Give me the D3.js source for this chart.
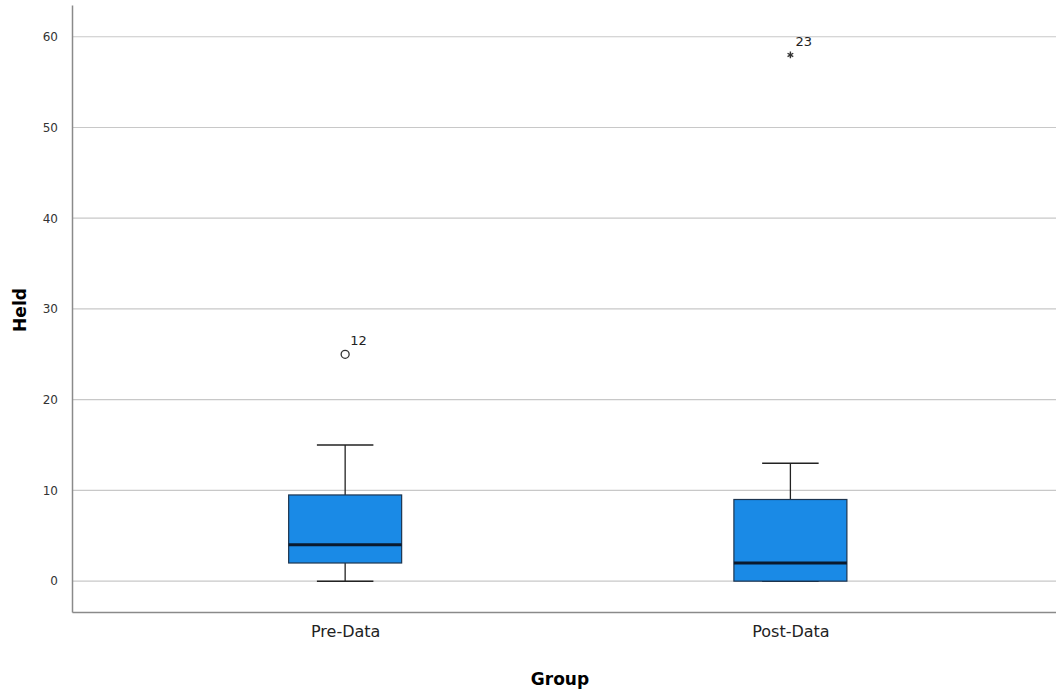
<!DOCTYPE html>
<html>
<head>
<meta charset="utf-8">
<script src="https://cdn.jsdelivr.net/npm/d3@7"></script>
<style>
  body { margin: 0; background: #fff; }
  text { font-family: "DejaVu Sans", sans-serif; }
</style>
</head>
<body>
<div class="chart"></div>
<script>
const groups = ["Pre-Data", "Post-Data"];
const mins = [0, 0];
const q1s = [2, 0];
const medians = [4, 2];
const q3s = [9.5, 9];
const maxs = [15, 13];
const outlierValues = [25, 58];
const outlierLabels = ["12", "23"];
const outlierKinds = ["circle", "star"];
const yTicks = [0, 10, 20, 30, 40, 50, 60];

const width = 1056, height = 694;
const margin = { left: 72, right: 1056, top: 5, bottom: 612 };

const svg = d3.select(".chart").append("svg")
  .attr("width", width)
  .attr("height", height);

const x = d3.scalePoint()
  .domain(groups)
  .range([margin.left, margin.right])
  .padding(0.605)
  .align(0.507);

const y = d3.scaleLinear()
  .domain([-3.4, 63.5])
  .range([margin.bottom, margin.top]);

const boxW = 113;

// grid lines
svg.append("g")
  .selectAll("line")
  .data(yTicks)
  .enter()
  .append("line")
  .attr("x1", margin.left)
  .attr("x2", margin.right)
  .attr("y1", d => y(d))
  .attr("y2", d => y(d))
  .attr("stroke", "#c8c8c8")
  .attr("stroke-width", 1.2);

// y axis
const yAxis = svg.append("g")
  .attr("transform", `translate(${margin.left}, 0)`)
  .call(d3.axisLeft(y).tickValues(yTicks).tickSize(0).tickPadding(14));
yAxis.select(".domain").attr("stroke", "#8a8a8a").attr("stroke-width", 1.5);
yAxis.selectAll("text").attr("font-size", 12).attr("fill", "#333");

// x axis
const xAxis = svg.append("g")
  .attr("transform", `translate(0, ${margin.bottom})`)
  .call(d3.axisBottom(x).tickSize(0).tickPadding(14));
xAxis.select(".domain").attr("stroke", "#8a8a8a").attr("stroke-width", 1.5);
xAxis.selectAll("text").attr("font-size", 16).attr("fill", "#222");

// axis titles
svg.append("text")
  .attr("x", 560)
  .attr("y", 685)
  .attr("text-anchor", "middle")
  .attr("font-size", 17)
  .attr("font-weight", "bold")
  .text("Group");

svg.append("text")
  .attr("transform", "translate(26, 310) rotate(-90)")
  .attr("text-anchor", "middle")
  .attr("font-size", 17)
  .attr("font-weight", "bold")
  .text("Held");

// boxes
const boxes = svg.append("g")
  .selectAll("g")
  .data(groups)
  .enter()
  .append("g");

// whiskers
boxes.append("line")
  .attr("x1", d => x(d)).attr("x2", d => x(d))
  .attr("y1", (d, i) => y(maxs[i])).attr("y2", (d, i) => y(q3s[i]))
  .attr("stroke", "#222").attr("stroke-width", 1.3);
boxes.append("line")
  .attr("x1", d => x(d)).attr("x2", d => x(d))
  .attr("y1", (d, i) => y(mins[i])).attr("y2", (d, i) => y(q1s[i]))
  .attr("stroke", "#222").attr("stroke-width", 1.3);
boxes.append("line")
  .attr("x1", d => x(d) - boxW / 4).attr("x2", d => x(d) + boxW / 4)
  .attr("y1", (d, i) => y(maxs[i])).attr("y2", (d, i) => y(maxs[i]))
  .attr("stroke", "#222").attr("stroke-width", 1.5);
boxes.append("line")
  .attr("x1", d => x(d) - boxW / 4).attr("x2", d => x(d) + boxW / 4)
  .attr("y1", (d, i) => y(mins[i])).attr("y2", (d, i) => y(mins[i]))
  .attr("stroke", "#222").attr("stroke-width", 1.5);

boxes.append("rect")
  .attr("x", d => x(d) - boxW / 2)
  .attr("width", boxW)
  .attr("y", (d, i) => y(q3s[i]))
  .attr("height", (d, i) => y(q1s[i]) - y(q3s[i]))
  .attr("fill", "#1a8ae6")
  .attr("stroke", "#1d3550")
  .attr("stroke-width", 1.2);

boxes.append("line")
  .attr("x1", d => x(d) - boxW / 2).attr("x2", d => x(d) + boxW / 2)
  .attr("y1", (d, i) => y(medians[i])).attr("y2", (d, i) => y(medians[i]))
  .attr("stroke", "#0a1a2e").attr("stroke-width", 3);

// outliers
boxes.each(function (d, i) {
  const g = d3.select(this);
  const cx = x(d), cy = y(outlierValues[i]);
  if (outlierKinds[i] === "circle") {
    g.append("circle")
      .attr("cx", cx).attr("cy", cy).attr("r", 4)
      .attr("fill", "#fff").attr("stroke", "#333").attr("stroke-width", 1.3);
  } else {
    g.append("path")
      .attr("d", d3.symbol(d3.symbolAsterisk, 30)())
      .attr("transform", `translate(${cx}, ${cy})`)
      .attr("stroke", "#333").attr("stroke-width", 1.4).attr("fill", "none");
  }
  g.append("text")
    .attr("x", cx + 5)
    .attr("y", cy - 9)
    .attr("font-family", "Liberation Serif, serif")
    .attr("font-size", 13)
    .attr("fill", "#222")
    .text(outlierLabels[i]);
});
</script>
</body>
</html>
